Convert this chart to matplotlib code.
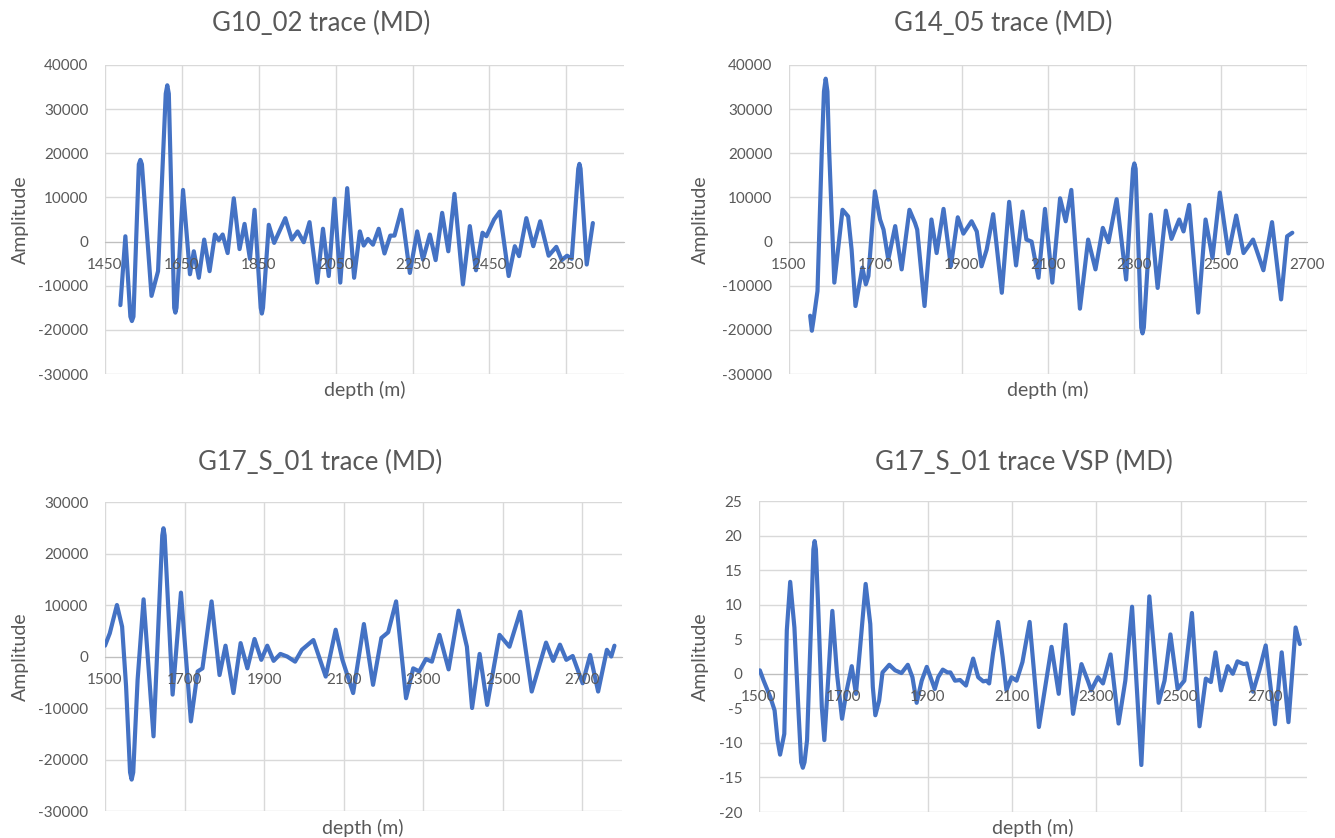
import matplotlib
matplotlib.use("Agg")
import matplotlib.pyplot as plt

plt.rcParams['font.family'] = ['Lato', 'DejaVu Sans']
plt.rcParams['axes.unicode_minus'] = False

W, H = 1335, 838
LINE = "#4472C4"
GRID = "#D9D9D9"
TEXT = "#595959"

# G10_02 trace (MD)
g10_depth = [1490, 1503, 1516, 1520, 1524, 1538, 1542, 1546, 1571, 1588, 1608, 1612,
             1616, 1630, 1633, 1636, 1653, 1671, 1681, 1694,
             1708, 1722, 1736, 1746, 1756, 1769, 1785, 1800, 1813, 1827, 1839, 1855,
             1858, 1861, 1876, 1890, 1919, 1936, 1951, 1967, 1982, 2002, 2017, 2032,
             2047, 2062, 2080, 2098, 2113, 2123, 2134, 2147, 2162, 2177, 2192, 2203,
             2221, 2243, 2262, 2277, 2295, 2310, 2327, 2343, 2359, 2381, 2399, 2415,
             2432, 2442, 2462, 2477, 2500, 2516, 2527, 2546, 2564, 2582, 2604, 2624,
             2638, 2652, 2664, 2681, 2684, 2687, 2703, 2719]
g10_amp = [-14400, 1200, -17000, -18000, -17000, 17500, 18500, 17500, -12300, -6700, 33500, 35400,
           33500, -15000, -16100, -15000, 11700, -7400, -2200, -8200,
           450, -6700, 1600, 300, 1600, -2600, 9800, -1700, 4000, -3900, 7200, -15000,
           -16300, -15000, 3800, -300, 5300, 450, 2300, -150, 4400, -9300, 2900, -7800,
           9700, -9300, 12100, -8200, 2300, -900, 600, -700, 2900, -2700, 1350, 1350,
           7200, -7100, 2300, -4100, 1600, -4200, 6500, -2200, 10800, -9700, 3500, -6500,
           2000, 1200, 5000, 6800, -7800, -1050, -3300, 5300, -1050, 4600, -3200, -1200,
           -4200, -3200, -3900, 16500, 17600, 16500, -5200, 4200]

# G14_05 trace (MD)
g14_depth = [1549, 1553, 1557, 1566, 1576, 1581, 1585, 1589, 1593, 1605, 1624, 1637,
             1645, 1654, 1670, 1678, 1684, 1699, 1711, 1719, 1730, 1746, 1761, 1779,
             1792, 1797, 1814, 1830, 1842, 1858, 1875, 1891, 1904, 1923, 1935, 1946,
             1958, 1973, 1993, 2010, 2026, 2041, 2050, 2062, 2078, 2093, 2110, 2128,
             2141, 2154, 2174, 2193, 2210, 2227, 2240, 2259, 2281, 2297, 2300, 2303,
             2316, 2319, 2322, 2338, 2354, 2373, 2386, 2404, 2414, 2427, 2448, 2465,
             2481, 2498, 2518, 2536, 2553, 2575, 2599, 2619, 2640, 2654, 2666]
g14_amp = [-16800, -20200, -17600, -11200, 20700, 34000, 36900, 34000, 20700, -9300, 7200, 5700,
           -1800, -14600, -5900, -9700, -7800, 11400, 5000, 2700, -4100, 3500, -6300, 7200,
           4200, 2700, -14600, 5000, -2600, 7400, -5600, 5500, 1800, 4600, 2300, -5600,
           -1800, 6200, -11600, 9000, -5400, 6800, 450, 0, -8200, 7400, -9300, 9800,
           4600, 11700, -15200, 450, -6300, 3100, -150, 9600, -8600, 16500, 17700, 16500,
           -19500, -20800, -19500, 6100, -10500, 7000, 600, 5000, 2300, 8300, -16100, 5000,
           -3700, 11100, -2700, 5900, -2600, 450, -6500, 4400, -13100, 1200, 2000]

# G17_S_01 trace (MD)
g17_depth = [1500, 1512, 1530, 1543, 1553, 1563, 1567, 1571, 1582, 1597, 1622, 1644,
             1647, 1650, 1670, 1691, 1716, 1733, 1745, 1768, 1788, 1803, 1823, 1841,
             1858, 1876, 1893, 1908, 1924, 1941, 1958, 1978, 1995, 2024, 2055, 2080,
             2097, 2124, 2151, 2174, 2195, 2212, 2232, 2257, 2275, 2290, 2307, 2322,
             2341, 2364, 2389, 2410, 2423, 2442, 2461, 2492, 2517, 2544, 2573, 2609,
             2627, 2644, 2660, 2676, 2701, 2720, 2740, 2762, 2773, 2781]
g17_amp = [2100, 4500, 10000, 5800, -5800, -22500, -23900, -22500, -4500, 11100, -15500, 23500,
           24900, 23500, -7400, 12400, -12600, -2900, -2300, 10700, -3600, 2100, -7100, 2600,
           -2300, 3400, -650, 2100, -850, 500, 0, -1000, 1300, 3200, -3900, 5200,
           -650, -7100, 6300, -5500, 3600, 4700, 10700, -8100, -2300, -2900, -500, -1000,
           4200, -2500, 8900, 1900, -10000, 500, -9400, 4200, 1900, 8700, -6800, 2700,
           -850, 2300, -650, 100, -5200, 300, -6800, 1300, 0, 2100]

# G17_S_01 trace VSP (MD)
vsp_depth = [1502, 1511, 1527, 1537, 1544, 1550, 1560, 1566, 1574, 1584, 1594, 1600,
             1604, 1608, 1614, 1623, 1629, 1632, 1635, 1641, 1649, 1655, 1663, 1674,
             1685, 1697, 1708, 1720, 1730, 1740, 1753, 1764, 1770, 1776, 1785, 1793,
             1799, 1809, 1823, 1838, 1853, 1864, 1874, 1886, 1898, 1907, 1917, 1925,
             1936, 1947, 1954, 1965, 1977, 1991, 2008, 2020, 2032, 2040, 2046, 2055,
             2067, 2078, 2087, 2099, 2111, 2125, 2142, 2164, 2194, 2211, 2227, 2245,
             2265, 2280, 2288, 2304, 2316, 2334, 2353, 2369, 2385, 2407, 2426, 2448,
             2462, 2476, 2493, 2509, 2527, 2545, 2560, 2572, 2583, 2596, 2612, 2624,
             2635, 2650, 2657, 2672, 2687, 2702, 2724, 2740, 2756, 2766, 2773, 2783]
vsp_amp = [0.5, -1.0, -3.4, -5.3, -9.6, -11.7, -8.7, 6.3, 13.3, 6.7, -5.8, -12.8,
           -13.6, -12.8, -9.6, 6.3, 18.0, 19.2, 18.0, 8.7, -4.8, -9.6, -1.9, 9.1,
           0.0, -6.5, -2.4, 1.1, -2.9, 3.9, 13.0, 7.2, -1.9, -6.0, -3.9, 0.2,
           0.6, 1.3, 0.5, 0.1, 1.3, -0.5, -4.2, -1.0, 1.0, -0.5, -2.2, -0.5,
           0.6, 0.2, 0.2, -1.0, -0.9, -1.7, 2.2, -0.5, -1.1, -1.0, -1.4, 2.9,
           7.5, 2.4, -2.4, -0.5, -1.0, 1.7, 7.5, -7.7, 3.9, -2.9, 7.1, -5.8,
           1.4, -1.0, -2.4, -0.5, -1.4, 2.8, -7.2, -1.0, 9.7, -13.2, 11.2, -4.2,
           -1.0, 5.7, -2.2, -1.0, 8.8, -7.6, -0.7, -1.2, 3.1, -2.4, 1.1, 0.0,
           1.8, 1.4, 1.5, -2.6, 0.5, 4.1, -7.3, 3.1, -7.0, 1.0, 6.7, 4.3]


def _axes(fig, left, top, right, bottom):
    # pixel box -> figure fraction
    return fig.add_axes([left / W, 1 - bottom / H, (right - left) / W, (bottom - top) / H])


def _ftext(fig, x, y, s, **kw):
    fig.text(x / W, 1 - y / H, s, ha="center", va="center", color=TEXT, **kw)


def _trace(ax, depth, amp, xlim, xticks, yticks):
    ax.plot(depth, amp, color=LINE, lw=3, zorder=3,
            solid_joinstyle="round", solid_capstyle="round")
    ax.set_xlim(*xlim)
    ax.set_ylim(yticks[0], yticks[-1])
    ax.set_xticks(xticks)
    ax.set_yticks(yticks)
    ax.set_xticklabels([])
    ax.grid(True, color=GRID, lw=1)
    ax.set_axisbelow(True)
    for s in ["top", "right", "left"]:
        ax.spines[s].set_visible(False)
    ax.spines["bottom"].set_position(("data", 0))
    ax.spines["bottom"].set_color("#BFBFBF")
    ax.spines["bottom"].set_zorder(1)
    ax.tick_params(length=0, colors=TEXT, labelsize=11)
    ax.tick_params(axis="y", pad=12)
    # depth labels sit under the zero line, over the trace
    for t in xticks:
        ax.annotate(str(t), (t, 0), xytext=(0, -17), textcoords="offset points",
                    ha="center", va="center", fontsize=11, color=TEXT,
                    zorder=4, annotation_clip=False)


fig = plt.figure(figsize=(W / 100, H / 100), dpi=100)

ax1 = _axes(fig, 105, 65, 624, 374)
_trace(ax1, g10_depth, g10_amp, (1450, 2800), list(range(1450, 2651, 200)),
       list(range(-30000, 40001, 10000)))
ax2 = _axes(fig, 789, 65, 1307, 374)
_trace(ax2, g14_depth, g14_amp, (1500, 2700), list(range(1500, 2701, 200)),
       list(range(-30000, 40001, 10000)))
ax3 = _axes(fig, 105, 502, 622, 811)
_trace(ax3, g17_depth, g17_amp, (1500, 2800), list(range(1500, 2701, 200)),
       list(range(-30000, 30001, 10000)))
ax4 = _axes(fig, 759, 501, 1307, 812)
_trace(ax4, vsp_depth, vsp_amp, (1500, 2800), list(range(1500, 2701, 200)),
       list(range(-20, 26, 5)))

_ftext(fig, 321, 23, "G10_02 trace (MD)", fontsize=18.5)
_ftext(fig, 1003, 23, "G14_05 trace (MD)", fontsize=18.5)
_ftext(fig, 320, 462, "G17_S_01 trace (MD)", fontsize=18.5)
_ftext(fig, 1024, 462, "G17_S_01 trace VSP (MD)", fontsize=18.5)

for x, y in [(365, 390), (1048, 390), (363, 828), (1033, 828)]:
    _ftext(fig, x, y, "depth (m)", fontsize=14)
for x, y in [(20, 220), (700, 220), (20, 657), (700, 657)]:
    _ftext(fig, x, y, "Amplitude", fontsize=14, rotation=90)

fig.savefig("out.png", dpi=100)
